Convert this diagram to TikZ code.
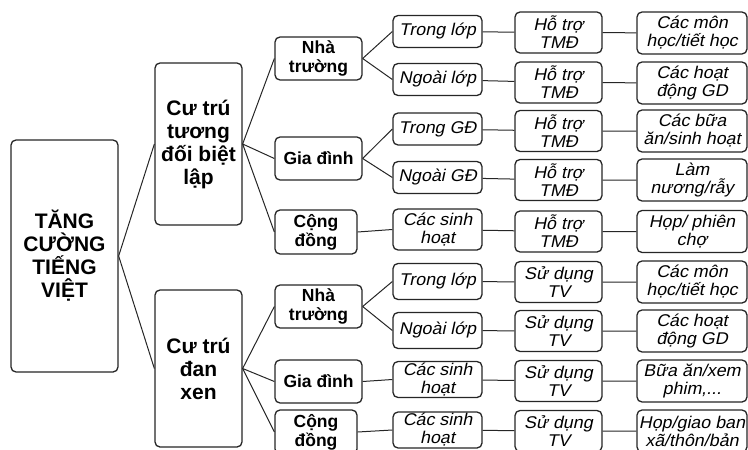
\documentclass[tikz,border=0pt]{standalone}
\usepackage{fontspec}
\setmainfont{Liberation Sans}
\newfontfamily\rongfont[FakeStretch=1.05,FakeSlant=0.21]{Liberation Sans}
\tikzset{
	hop/.style={draw=black!85, line width=1.3pt, rounded corners=5pt, fill=white, align=center, inner sep=1pt},
	dam/.style={hop, font=\bfseries\fontsize{17.5}{19}\selectfont, minimum width=87pt, minimum height=43pt},
	damlon/.style={hop, font=\bfseries\fontsize{21}{23}\selectfont},
	nghieng/.style={hop, font=\rongfont\fontsize{17}{18}\selectfont},
	cap3/.style={nghieng, minimum width=89pt, minimum height=32pt},
	cap4/.style={nghieng, minimum width=87pt, minimum height=41pt},
	cap5/.style={nghieng, minimum width=110pt, minimum height=42pt},
	noi/.style={line width=1pt, black!85}
}
\begin{document}
\begin{tikzpicture}[x=1pt,y=-1pt]
	\useasboundingbox (0,0) rectangle (748,450);
	
	\node[damlon, minimum width=107pt, minimum height=232pt] (goc) at (64.5,256) {TĂNG\\CƯỜNG\\TIẾNG\\VIỆT};
	\node[damlon, minimum width=87pt, minimum height=162pt] (bietlap) at (198.5,144) {Cư trú\\tương\\đối biệt\\lập};
	\node[damlon, minimum width=87pt, minimum height=157pt] (danxen) at (198.5,368.5) {Cư trú\\đan\\xen};
	
	% cap 2
	\node[dam] (nt1) at (318.5,58.5) {Nhà\\trường};
	\node[dam] (gd1) at (318.5,158.5) {Gia đình};
	\node[dam, minimum width=82pt, minimum height=44pt] (cd1) at (316,232) {Cộng\\đồng};
	\node[dam] (nt2) at (318.5,306.5) {Nhà\\trường};
	\node[dam] (gd2) at (318.5,381.5) {Gia đình};
	\node[dam, minimum width=82pt, minimum height=44pt] (cd2) at (316,432) {Cộng\\đồng};
	
	% cap 3
	\node[cap3] (a1) at (437.5,31.5) {Trong lớp};
	\node[cap3] (a2) at (437.5,79.5) {Ngoài lớp};
	\node[cap3] (a3) at (437.5,129) {Trong GĐ};
	\node[cap3] (a4) at (437.5,177.5) {Ngoài GĐ};
	\node[cap3, minimum height=41pt] (a5) at (437.5,229.5) {Các sinh\\hoạt};
	\node[cap3, minimum height=36pt] (a6) at (437.5,281.5) {Trong lớp};
	\node[cap3, minimum height=36pt] (a7) at (437.5,330.5) {Ngoài lớp};
	\node[cap3, minimum height=36pt] (a8) at (437.5,379.5) {Các sinh\\hoạt};
	\node[cap3, minimum height=36pt] (a9) at (437.5,430) {Các sinh\\hoạt};
	
	% cap 4
	\node[cap4] (b1) at (558.5,32.5) {Hỗ trợ\\TMĐ};
	\node[cap4] (b2) at (558.5,82.5) {Hỗ trợ\\TMĐ};
	\node[cap4] (b3) at (558.5,131) {Hỗ trợ\\TMĐ};
	\node[cap4] (b4) at (558.5,180) {Hỗ trợ\\TMĐ};
	\node[cap4] (b5) at (558.5,231.5) {Hỗ trợ\\TMĐ};
	\node[cap4] (b6) at (558.5,282) {Sử dụng\\TV};
	\node[cap4] (b7) at (558.5,331) {Sử dụng\\TV};
	\node[cap4] (b8) at (558.5,381) {Sử dụng\\TV};
	\node[cap4] (b9) at (558.5,431) {Sử dụng\\TV};
	
	% cap 5
	\node[cap5] (c1) at (692,33) {Các môn\\học/tiết học};
	\node[cap5] (c2) at (692,83) {Các hoạt\\động GD};
	\node[cap5] (c3) at (692,131) {Các bữa\\ăn/sinh hoạt};
	\node[cap5] (c4) at (692,180) {Làm\\nương/rẫy};
	\node[cap5] (c5) at (692,231.5) {Họp/ phiên\\chợ};
	\node[cap5] (c6) at (692,282) {Các môn\\học/tiết học};
	\node[cap5] (c7) at (692,331) {Các hoạt\\động GD};
	\node[cap5] (c8) at (692,381) {Bữa ăn/xem\\phim,...};
	\node[cap5] (c9) at (692,431) {Họp/giao ban\\xã/thôn/bản};
	
	\draw[noi] (goc.east) -- (bietlap.west) (goc.east) -- (danxen.west);
	\draw[noi] (bietlap.east) -- (nt1.west) (bietlap.east) -- (gd1.west) (bietlap.east) -- (cd1.west);
	\draw[noi] (danxen.east) -- (nt2.west) (danxen.east) -- (gd2.west) (danxen.east) -- (cd2.west);
	\draw[noi] (nt1.east) -- (a1.west) (nt1.east) -- (a2.west) (gd1.east) -- (a3.west) (gd1.east) -- (a4.west) (cd1.east) -- (a5.west);
	\draw[noi] (nt2.east) -- (a6.west) (nt2.east) -- (a7.west) (gd2.east) -- (a8.west) (cd2.east) -- (a9.west);
	\draw[noi] (a1) -- (b1) -- (c1) (a2) -- (b2) -- (c2) (a3) -- (b3) -- (c3);
	\draw[noi] (a4) -- (b4) -- (c4) (a5) -- (b5) -- (c5) (a6) -- (b6) -- (c6);
	\draw[noi] (a7) -- (b7) -- (c7) (a8) -- (b8) -- (c8) (a9) -- (b9) -- (c9);
	
\end{tikzpicture}
\end{document}
